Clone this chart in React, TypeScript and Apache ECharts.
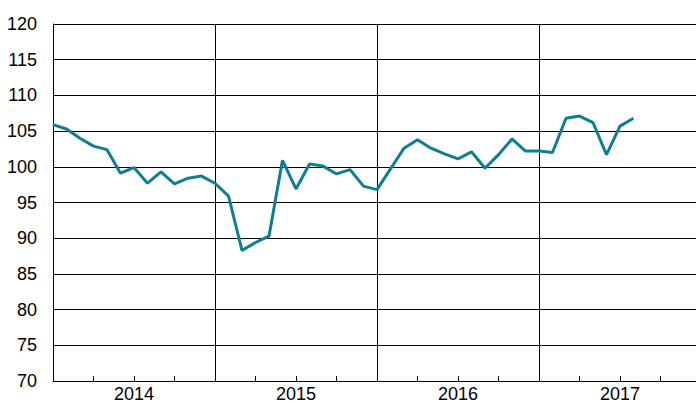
import React, { useEffect, useRef } from "react";
import * as echarts from "echarts";

const years = ["2014", "2015", "2016", "2017"];
const yTicks = [70, 75, 80, 85, 90, 95, 100, 105, 110, 115, 120];
// monthly values starting Jan 2014
const values = [
  105.9, 105.3, 104.0, 102.9, 102.4, 99.1, 99.9, 97.7, 99.3, 97.6, 98.4, 98.7,
  97.7, 95.9, 88.3, 89.4, 90.3, 100.9, 96.9, 100.4, 100.1, 99.0, 99.6, 97.3,
  96.8, 99.7, 102.6, 103.8, 102.6, 101.8, 101.1, 102.1, 99.8, 101.7, 103.9, 102.2,
  102.2, 102.0, 106.8, 107.1, 106.2, 101.7, 105.7, 106.8,
];

export default function App() {
  const ref = useRef<HTMLDivElement>(null);
  useEffect(() => {
    document.body.style.margin = "0";
    const chart = echarts.init(ref.current!, null, { renderer: "svg" });
    const font = "Arial, 'Liberation Sans', sans-serif";
    chart.setOption({
      animation: false,
      backgroundColor: "#fff",
      grid: { left: 53, top: 24, width: 648, height: 357, containLabel: false },
      xAxis: [
        {
          type: "value",
          min: 0,
          max: 48,
          interval: 3,
          axisLine: { show: true, lineStyle: { color: "#000", width: 1 } },
          axisTick: { show: true, inside: true, length: 5, lineStyle: { color: "#000" } },
          splitLine: { show: false },
          axisLabel: {
            show: true,
            margin: 4,
            fontSize: 18,
            fontFamily: font,
            color: "#000",
            showMinLabel: true,
            showMaxLabel: true,
            formatter: (v: number) =>
              v % 12 === 6 ? years[(v - 6) / 12] ?? "" : "",
          },
        },
        {
          type: "value",
          min: 0,
          max: 48,
          interval: 12,
          position: "bottom",
          axisLine: { show: false },
          axisTick: { show: false },
          axisLabel: { show: false },
          splitLine: { show: true, lineStyle: { color: "#000", width: 1 } },
        },
      ],
      yAxis: {
        type: "value",
        min: yTicks[0],
        max: yTicks[yTicks.length - 1],
        interval: 5,
        axisLine: { show: true, lineStyle: { color: "#000", width: 1 } },
        axisTick: { show: false },
        splitLine: { show: true, lineStyle: { color: "#000", width: 1 } },
        axisLabel: {
          margin: 16,
          fontSize: 18,
          fontFamily: font,
          color: "#000",
        },
      },
      series: [
        {
          type: "line",
          xAxisIndex: 0,
          data: values.map((v, i) => [i, v]),
          symbol: "none",
          lineStyle: { color: "#0f7d95", width: 3 },
          z: 5,
        },
      ],
    });
    return () => chart.dispose();
  }, []);
  return (
    <div style={{ width: 696, height: 403, overflow: "hidden", position: "relative" }}>
      <div ref={ref} style={{ width: 710, height: 403 }} />
    </div>
  );
}
